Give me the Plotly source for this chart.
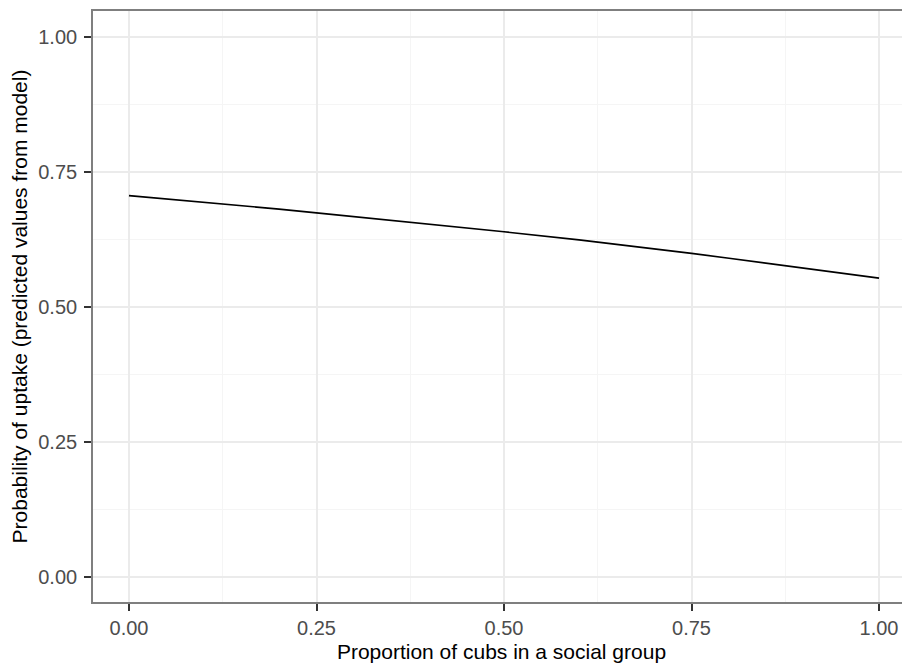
import plotly.graph_objects as go

# Data
prop_cubs = [0.0, 0.1, 0.2, 0.25, 0.3, 0.4, 0.5, 0.6, 0.7, 0.75, 0.8, 0.9, 1.0]
prob_uptake = [0.706, 0.694, 0.681, 0.674, 0.667, 0.654, 0.639, 0.624, 0.608, 0.599, 0.590, 0.572, 0.553]

tick_vals = [0.0, 0.25, 0.5, 0.75, 1.0]
tick_text = ["0.00", "0.25", "0.50", "0.75", "1.00"]

x_title = "Proportion of cubs in a social group"
y_title = "Probability of uptake (predicted values from model)"

fig = go.Figure()
fig.add_trace(go.Scatter(
    x=prop_cubs, y=prob_uptake, mode="lines",
    line=dict(color="black", width=1.6), showlegend=False, hoverinfo="skip",
))

font_family = "Liberation Sans, Arial, sans-serif"

fig.update_layout(
    width=910, height=666,
    margin=dict(l=85, r=8, t=3, b=72),
    paper_bgcolor="white", plot_bgcolor="white",
    font=dict(family=font_family, size=20, color="black"),
    xaxis=dict(
        range=[-0.048, 1.0413],
        tickvals=tick_vals, ticktext=tick_text,
        showgrid=True, gridcolor="#EBEBEB", gridwidth=1.5,
        minor=dict(dtick=0.125, showgrid=True, gridcolor="#F5F5F5", gridwidth=1),
        showline=True, linecolor="#7F7F7F", linewidth=1.6, mirror=True,
        ticks="outside", ticklen=7, tickwidth=1.5, tickcolor="#333333",
        tickfont=dict(size=20, color="#4D4D4D"),
        ticklabelstandoff=0,
        zeroline=False,
        title=dict(text=x_title, font=dict(size=21, color="black"), standoff=7),
        automargin=False,
    ),
    yaxis=dict(
        range=[-0.047, 1.048],
        tickvals=tick_vals, ticktext=tick_text,
        showgrid=True, gridcolor="#EBEBEB", gridwidth=1.5,
        minor=dict(dtick=0.125, showgrid=True, gridcolor="#F5F5F5", gridwidth=1),
        showline=True, linecolor="#7F7F7F", linewidth=1.6, mirror=False,
        ticks="outside", ticklen=7, tickwidth=1.5, tickcolor="#333333",
        tickfont=dict(size=20, color="#4D4D4D"),
        ticklabelstandoff=3,
        zeroline=False,
        title=dict(text=y_title, font=dict(size=21, color="black"), standoff=11),
        automargin=False,
    ),
)

fig.write_html("out.html")
